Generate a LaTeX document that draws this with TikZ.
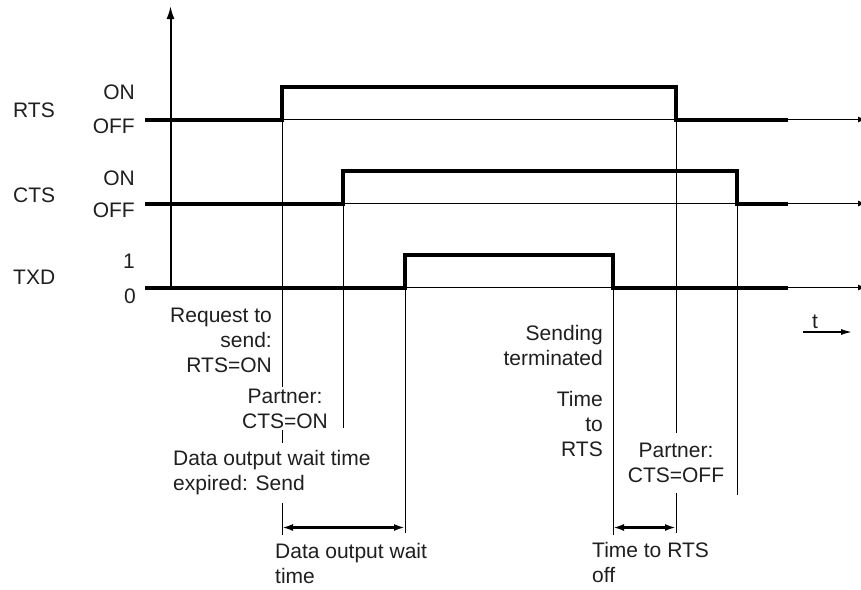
\documentclass[tikz,border=0pt]{standalone}
\usepackage{fontspec}
\setmainfont{Liberation Sans}
\usetikzlibrary{arrows.meta}
\begin{document}
\begin{tikzpicture}[x=1pt,y=-1pt,
  lbl/.style={font=\fontsize{21}{25}\selectfont, text=black!88, inner sep=0pt},
  sig/.style={line width=4pt, line join=miter},
  thinline/.style={line width=1.2pt, -{Latex[length=8pt,width=6pt]}},
  guide/.style={line width=0.9pt},
  dim/.style={line width=2.2pt, {Latex[length=11pt,width=7pt]}-{Latex[length=11pt,width=7pt]}},
]
\clip (0,0) rectangle (861,589);
\fill[white] (0,0) rectangle (861,589);

% axis
\coordinate (axB) at (170.5,289);
\coordinate (axT) at (170.5,6);
\draw[line width=2pt, -{Latex[length=13pt,width=8pt]}] (axB) -- (axT);

% RTS
\coordinate (r0) at (145,119.5); \coordinate (r1) at (282,119.5);
\coordinate (r2) at (282,86.5);  \coordinate (r3) at (676,86.5);
\coordinate (r4) at (676,119.5); \coordinate (r5) at (788,119.5);
\coordinate (rE) at (866,119.5);
\draw[thinline] (r1) -- (rE);
\draw[sig] (r0) -- (r1) -- (r2) -- (r3) -- (r4) -- (r5);

% CTS
\coordinate (c0) at (145,203.5); \coordinate (c1) at (343,203.5);
\coordinate (c2) at (343,170.5); \coordinate (c3) at (737,170.5);
\coordinate (c4) at (737,203.5); \coordinate (c5) at (788,203.5);
\coordinate (cE) at (866,203.5);
\draw[thinline] (c1) -- (cE);
\draw[sig] (c0) -- (c1) -- (c2) -- (c3) -- (c4) -- (c5);

% TXD
\coordinate (t0) at (145,287.5); \coordinate (t1) at (405,287.5);
\coordinate (t2) at (405,254.5); \coordinate (t3) at (613,254.5);
\coordinate (t4) at (613,287.5); \coordinate (t5) at (788,287.5);
\coordinate (tE) at (866,287.5);
\draw[thinline] (t1) -- (tE);
\draw[sig] (t0) -- (t1) -- (t2) -- (t3) -- (t4) -- (t5);

% guide lines
\coordinate (g1a) at (282,387); \coordinate (g1b) at (282,430);
\coordinate (g1c) at (282,443); \coordinate (g1d) at (282,503);
\coordinate (g1e) at (282,535);
\draw[guide] (r1) -- (g1a) (g1b) -- (g1c) (g1d) -- (g1e);
\coordinate (g2a) at (343,428);
\draw[guide] (c1) -- (g2a);
\coordinate (g3a) at (405,533);
\draw[guide] (t1) -- (g3a);
\coordinate (g4a) at (613,535);
\draw[guide] (t4) -- (g4a);
\coordinate (g5a) at (676,433); \coordinate (g5b) at (676,493);
\coordinate (g5c) at (676,533);
\draw[guide] (r4) -- (g5a) (g5b) -- (g5c);
\coordinate (g6a) at (737,495);
\draw[guide] (c4) -- (g6a);

% dimension arrows
\coordinate (d1a) at (282,527.5); \coordinate (d1b) at (405,527.5);
\coordinate (d2a) at (613,527.5); \coordinate (d2b) at (676,527.5);
\draw[dim] (d1a) -- (d1b);
\draw[dim] (d2a) -- (d2b);

% time arrow
\coordinate (ta) at (803,332); \coordinate (tb) at (853,332);
\draw[line width=2pt, -{Latex[length=12pt,width=6pt]}] (ta) -- (tb);
\node[lbl, anchor=base] (tl) at (815,328) {t};

% signal labels
\node[lbl, anchor=base west] (rts) at (13,117) {RTS};
\node[lbl, anchor=base west] (cts) at (13,202) {CTS};
\node[lbl, anchor=base west] (txd) at (13,284) {TXD};
\node[lbl, anchor=base east] (rtson) at (135,99) {ON};
\node[lbl, anchor=base east] (rtsoff) at (135,133) {OFF};
\node[lbl, anchor=base east] (ctson) at (135,185) {ON};
\node[lbl, anchor=base east] (ctsoff) at (135,217) {OFF};
\node[lbl, anchor=base east] (txd1) at (135,268) {1};
\node[lbl, anchor=base east] (txd0) at (136,303) {0};

% event texts (north = first baseline - 17.5)
\node[lbl, anchor=north east, align=right] (req) at (272,304.5) {\strut Request to\\send:\\RTS=ON};
\node[lbl, anchor=north, align=center] (pon) at (285,385.5) {\strut Partner:\\CTS=ON};
\node[lbl, anchor=north west, align=left] (dow) at (173,447.5) {\strut Data output wait time\\expired: Send};
\node[lbl, anchor=north west, align=left] (dwt) at (275,540.5) {\strut Data output wait\\time};
\node[lbl, anchor=north east, align=right] (snd) at (603,322.5) {\strut Sending\\terminated};
\node[lbl, anchor=north east, align=right] (ttr) at (603,388.5) {\strut Time\\to\\RTS};
\node[lbl, anchor=north, align=center] (poff) at (676,439.5) {\strut Partner:\\CTS=OFF};
\node[lbl, anchor=north west, align=left] (tro) at (592,539.5) {\strut Time to RTS\\off};
\end{tikzpicture}
\end{document}
